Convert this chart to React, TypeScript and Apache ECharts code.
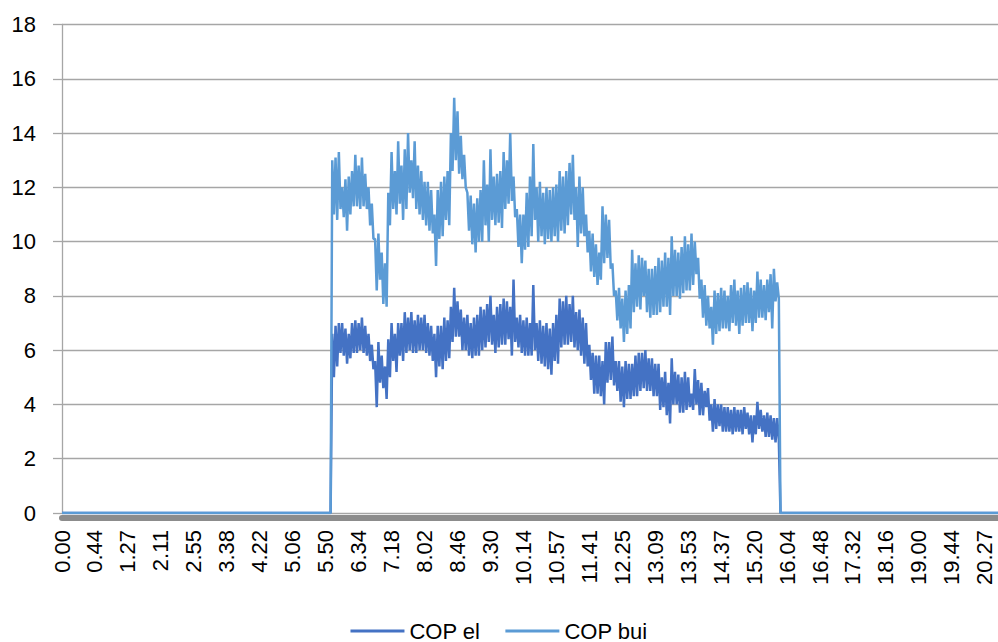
import React, { useEffect, useRef } from "react";
import * as echarts from "echarts";

// x-axis tick labels (one every 20 samples)
const tickLabels = [
  "0.00", "0.44", "1.27", "2.11", "2.55", "3.38", "4.22", "5.06", "5.50", "6.34",
  "7.18", "8.02", "8.46", "9.30", "10.14", "10.57", "11.41", "12.25", "13.09", "13.53",
  "14.37", "15.20", "16.04", "16.48", "17.32", "18.16", "19.00", "19.44", "20.27",
];
const samplesPerLabel = 20;
const totalSamples = 569;
// number of samples at 0 before the unit starts and after it stops
const zerosBefore = 164;
const zerosAfter = 133;

// COP el while running (samples 164..435)
const copElActive = [
  6.6, 5.0, 6.9, 5.4, 7.0, 5.9, 7.0, 5.8, 6.8, 5.5, 6.6, 5.7, 7.0, 5.9, 7.1, 5.9, 7.0, 6.0, 7.2, 5.9,
  6.9, 5.8, 6.6, 5.6, 6.2, 5.3, 5.6, 3.9, 6.3, 4.8, 5.8, 4.6, 5.4, 4.2, 6.4, 5.0, 7.0, 5.6, 6.6, 5.2,
  7.0, 5.8, 7.0, 5.6, 7.4, 5.9, 7.2, 6.0, 7.4, 5.9, 7.1, 5.9, 7.3, 6.0, 7.2, 6.0, 7.3, 5.9, 7.0, 5.8,
  6.9, 5.6, 6.6, 5.0, 6.9, 5.4, 6.9, 5.3, 7.2, 5.6, 7.1, 5.7, 7.6, 6.3, 8.3, 6.5, 7.8, 6.5, 7.5, 6.0,
  7.2, 6.0, 7.3, 5.8, 7.0, 5.7, 7.2, 5.8, 7.3, 5.8, 7.6, 6.0, 7.5, 6.1, 7.7, 6.3, 8.0, 6.2, 7.3, 5.9,
  7.6, 6.1, 7.7, 6.2, 7.9, 6.2, 7.8, 6.4, 7.6, 5.8, 8.6, 6.3, 7.2, 6.1, 7.3, 5.9, 7.1, 5.8, 7.2, 5.8,
  7.0, 5.8, 8.4, 6.0, 7.0, 5.6, 7.1, 5.5, 6.9, 5.4, 7.0, 5.3, 6.8, 5.1, 7.0, 5.6, 7.3, 5.5, 7.9, 6.1,
  7.8, 6.2, 8.0, 6.2, 7.7, 6.3, 8.0, 6.1, 7.4, 6.0, 7.5, 5.8, 7.2, 5.5, 7.0, 5.4, 6.2, 4.9, 5.9, 4.4,
  5.8, 4.4, 5.8, 4.3, 5.6, 4.0, 6.3, 4.8, 6.3, 4.9, 6.5, 4.7, 5.6, 4.5, 5.6, 4.1, 5.4, 3.9, 5.6, 4.2,
  5.5, 4.2, 5.5, 4.3, 5.8, 4.3, 5.9, 4.5, 5.9, 4.6, 6.0, 4.5, 5.7, 4.5, 5.7, 4.3, 5.5, 4.3, 5.5, 3.8,
  5.0, 3.9, 5.2, 3.6, 4.8, 3.3, 5.7, 4.0, 5.2, 4.0, 5.1, 3.7, 5.0, 3.7, 5.2, 3.8, 5.0, 3.9, 4.4, 3.8,
  5.3, 4.0, 4.9, 3.6, 4.8, 3.6, 4.5, 3.9, 4.6, 3.4, 4.0, 3.0, 4.2, 3.1, 4.0, 3.2, 4.0, 3.0, 3.9, 3.0,
  3.9, 3.0, 3.8, 2.9, 3.9, 3.0, 3.8, 3.0, 3.8, 2.9, 3.9, 3.1, 3.7, 2.9, 3.6, 2.6, 3.6, 2.9, 4.1, 3.1,
  3.8, 3.0, 3.6, 2.8, 3.7, 2.8, 3.6, 2.7, 3.5, 2.6, 3.5, 2.7,
];

// COP bui while running (samples 164..435)
const copBuiActive = [
  13.0, 11.0, 13.1, 10.8, 13.3, 11.2, 12.0, 10.9, 12.3, 10.4, 12.4, 11.0, 12.6, 11.3, 13.2, 11.3, 12.8, 11.2, 13.1, 11.3,
  12.5, 11.2, 12.0, 10.6, 11.4, 10.1, 10.1, 8.2, 10.3, 8.6, 9.6, 7.7, 9.2, 7.6, 11.8, 10.6, 13.3, 11.2, 12.6, 11.0,
  13.7, 11.4, 12.8, 10.8, 13.4, 11.2, 14.0, 11.8, 13.0, 11.6, 13.7, 11.2, 12.8, 11.0, 12.6, 10.8, 12.2, 10.6, 12.2, 10.4,
  11.9, 10.3, 11.0, 9.1, 11.9, 10.1, 12.2, 10.2, 12.4, 10.8, 12.6, 10.6, 14.0, 12.6, 15.3, 13.0, 14.8, 12.5, 13.9, 12.3,
  13.2, 12.0, 11.8, 10.4, 11.7, 9.9, 11.4, 9.6, 11.6, 10.0, 11.9, 10.0, 13.0, 10.6, 12.1, 10.0, 13.4, 10.8, 12.4, 10.6,
  12.5, 10.7, 12.6, 10.5, 13.3, 11.2, 13.0, 11.4, 14.0, 11.5, 12.4, 10.9, 11.2, 9.8, 11.0, 9.2, 11.0, 9.7, 11.8, 9.8,
  12.4, 10.2, 13.6, 10.8, 12.0, 10.0, 12.2, 10.2, 11.8, 9.9, 12.0, 10.1, 11.9, 10.0, 12.0, 10.2, 12.1, 10.0, 12.6, 10.4,
  12.4, 10.3, 12.6, 10.6, 12.9, 11.0, 13.2, 10.8, 12.0, 9.8, 12.4, 10.3, 12.0, 10.2, 11.0, 9.6, 10.4, 8.9, 10.3, 8.7,
  9.9, 8.4, 9.6, 8.6, 11.3, 9.2, 11.0, 9.4, 10.8, 9.0, 9.2, 8.0, 8.2, 7.1, 8.3, 6.8, 7.9, 6.3, 8.2, 6.6,
  8.4, 6.8, 9.7, 7.4, 9.2, 7.6, 9.5, 7.5, 9.4, 8.0, 9.3, 7.4, 9.0, 7.2, 9.0, 7.3, 9.1, 7.3, 9.4, 7.4,
  9.3, 7.6, 9.6, 7.6, 9.4, 7.3, 10.2, 8.0, 9.7, 8.0, 9.6, 7.9, 9.8, 8.1, 10.2, 8.2, 9.9, 8.2, 10.3, 8.4,
  10.0, 8.8, 9.4, 7.9, 8.6, 7.2, 8.4, 6.9, 8.0, 6.8, 7.6, 6.2, 8.2, 6.6, 8.1, 6.7, 8.3, 6.8, 8.2, 6.8,
  8.0, 6.7, 8.4, 7.0, 8.6, 6.9, 8.2, 6.6, 8.3, 6.9, 8.4, 7.0, 8.5, 7.0, 8.3, 6.7, 8.2, 7.0, 8.9, 7.2,
  8.6, 7.2, 8.4, 7.1, 8.6, 7.4, 8.8, 6.8, 9.0, 7.8, 8.5, 7.9,
];

const W = 998;
const H = 642;

export default function App() {
  const ref = useRef<HTMLDivElement>(null);

  useEffect(() => {
    if (!ref.current) return;
    const chart = echarts.init(ref.current, null, { renderer: "svg", width: W, height: H });

    const categories = Array.from({ length: totalSamples }, (_, i) => String(i));
    const zeroA = new Array(zerosBefore).fill(0);
    const zeroB = new Array(zerosAfter).fill(0);
    const copEl = [...zeroA, ...copElActive, ...zeroB];
    const copBui = [...zeroA, ...copBuiActive, ...zeroB];

    const font = "'Liberation Sans', Arial, sans-serif";

    chart.setOption({
      animation: false,
      backgroundColor: "#ffffff",
      textStyle: { fontFamily: font },
      grid: { left: 62, right: 0, top: 24.5, bottom: 129, containLabel: false },
      legend: {
        data: ["COP el", "COP bui"],
        top: 620,
        left: "center",
        padding: 0,
        icon: "rect",
        itemWidth: 54,
        itemHeight: 3,
        itemGap: 25,
        textStyle: { fontSize: 22, color: "#000", fontFamily: font },
      },
      xAxis: {
        type: "category",
        data: categories,
        boundaryGap: false,
        offset: 5,
        axisLine: { onZero: false, lineStyle: { color: "#8C8C8C", width: 6 } },
        axisTick: { show: false },
        splitLine: { show: false },
        axisLabel: {
          interval: samplesPerLabel - 1,
          rotate: 90,
          margin: 12,
          fontSize: 22,
          color: "#000",
          fontFamily: font,
          formatter: (_v: string, idx: number) =>
            idx % samplesPerLabel === 0 ? tickLabels[idx / samplesPerLabel] ?? "" : "",
        },
      },
      yAxis: {
        type: "value",
        min: 0,
        max: 18,
        interval: 2,
        axisLine: { show: true, lineStyle: { color: "#A6A6A6", width: 1.3 } },
        axisTick: { show: true, length: 9, lineStyle: { color: "#A6A6A6", width: 1.3 } },
        axisLabel: { fontSize: 22, color: "#000", margin: 26, fontFamily: font },
        splitLine: { lineStyle: { color: "#A6A6A6", width: 1.3 } },
      },
      series: [
        {
          name: "COP el",
          type: "line",
          data: copEl,
          symbol: "none",
          showSymbol: false,
          lineStyle: { color: "#4472C4", width: 2.5 },
          itemStyle: { color: "#4472C4" },
        },
        {
          name: "COP bui",
          type: "line",
          data: copBui,
          symbol: "none",
          showSymbol: false,
          lineStyle: { color: "#5B9BD5", width: 2.5 },
          itemStyle: { color: "#5B9BD5" },
        },
      ],
    });

    return () => chart.dispose();
  }, []);

  return (
    <div
      ref={ref}
      style={{ position: "fixed", left: 0, top: 0, width: W, height: H, background: "#fff" }}
    />
  );
}
